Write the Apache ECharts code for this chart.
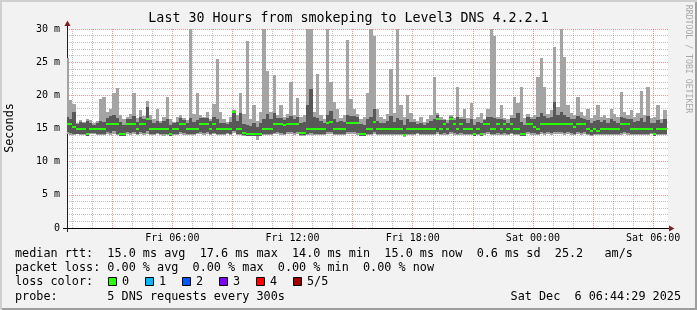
<!DOCTYPE html>
<html><head><meta charset="utf-8">
<script src="https://cdn.jsdelivr.net/npm/echarts@6/dist/echarts.min.js"></script>
<style>html,body{margin:0;padding:0;background:#f2f2f2;}#c{width:697px;height:310px;}</style>
</head><body><div id="c"></div>
<script>
// ---------- data ----------
const chartTitle = 'Last 30 Hours from smokeping to Level3 DNS 4.2.2.1';
const yAxisTitle = 'Seconds';
const xTickMinutes = [360, 720, 1080, 1440, 1800];           // minutes since Fri 00:00
const xTickLabels = ['Fri 06:00', 'Fri 12:00', 'Fri 18:00', 'Sat 00:00', 'Sat 06:00'];
const yTickLabels = ['0', '5 m', '10 m', '15 m', '20 m', '25 m', '30 m'];
const viewStartMin = 44 + 29 / 60;      // Fri 00:44:29
const viewSpanMin = 1800;               // 30 hours
const stepMin = 10;                     // one column = 10 minutes
const firstEndMin = 50;                 // first column ends Fri 00:50

// ping values per column (ms): smallest, 2nd, median, 4th, largest
const pMin = [
14.2,14.0,14.0,14.1,14.0,14.0,13.8,14.1,14.1,14.0,
14.0,14.0,14.1,14.0,14.2,14.0,13.9,13.9,14.1,14.0,
14.1,14.0,14.1,14.0,14.2,14.0,14.0,14.1,14.0,13.9,
14.0,13.8,14.0,14.0,14.1,14.0,14.0,14.0,14.0,14.1,
14.1,14.0,14.2,14.0,14.1,14.0,14.0,14.0,14.1,14.0,
14.3,14.0,14.0,13.9,13.8,13.8,13.8,13.3,13.8,14.0,
14.0,14.0,14.1,14.1,14.0,14.0,14.1,14.1,14.0,14.1,
13.9,13.9,14.0,14.0,14.0,14.0,14.0,14.0,14.1,14.1,
14.0,14.0,14.0,14.0,14.1,14.2,14.1,14.0,13.8,13.8,
14.0,14.0,14.1,14.0,14.0,14.0,14.0,14.0,14.0,14.0,
14.0,13.7,14.0,14.0,14.0,14.1,14.0,14.0,14.0,14.0,
14.0,14.1,14.0,14.0,14.0,14.1,14.0,14.0,14.0,14.0,
14.0,14.0,13.8,14.0,13.8,14.0,14.1,14.0,14.0,14.0,
14.0,14.0,14.0,14.1,14.0,14.0,13.8,13.8,14.1,14.0,
14.0,14.0,14.1,14.0,14.1,14.0,14.2,14.1,14.1,14.0,
14.1,14.0,14.0,14.1,14.0,14.1,14.0,13.9,14.0,14.0,
14.0,14.0,14.0,14.0,14.0,14.0,14.0,14.1,14.0,14.0,
14.0,14.0,14.0,14.0,14.0,14.1,13.8,14.0,14.0,14.0];
const p2 = [
14.4,14.3,14.1,14.2,14.1,14.2,13.9,14.3,14.3,14.2,
14.2,14.1,14.4,14.3,14.6,14.2,13.9,13.9,14.4,14.3,
14.5,14.2,14.4,14.3,14.6,14.2,14.1,14.3,14.2,14.1,
14.2,13.9,14.2,14.1,14.4,14.3,14.2,14.2,14.1,14.3,
14.4,14.3,14.4,14.2,14.3,14.2,14.1,14.2,14.3,14.1,
14.6,14.2,14.2,14.0,13.9,13.9,13.9,13.8,13.9,14.2,
14.2,14.2,14.3,14.4,14.3,14.2,14.4,14.4,14.3,14.4,
14.0,14.0,14.2,14.3,14.2,14.1,14.2,14.1,14.4,14.5,
14.2,14.2,14.1,14.2,14.4,14.5,14.4,14.3,13.9,13.9,
14.2,14.2,14.4,14.2,14.1,14.2,14.2,14.2,14.1,14.2,
14.2,13.8,14.2,14.1,14.2,14.3,14.1,14.2,14.2,14.1,
14.2,14.4,14.2,14.3,14.2,14.4,14.3,14.2,14.3,14.2,
14.2,14.1,13.9,14.2,13.9,14.3,14.4,14.2,14.2,14.3,
14.2,14.3,14.2,14.3,14.2,14.2,13.9,13.9,14.4,14.3,
14.3,14.2,14.4,14.3,14.4,14.3,14.5,14.4,14.4,14.3,
14.4,14.3,14.2,14.4,14.3,14.4,14.2,14.0,14.2,14.1,
14.2,14.1,14.2,14.2,14.1,14.2,14.3,14.4,14.3,14.2,
14.2,14.1,14.2,14.2,14.2,14.3,13.9,14.2,14.1,14.2];
const pMed = [
15.7,15.7,15.2,14.9,14.9,14.9,14.2,14.9,14.9,14.9,
14.9,14.9,15.7,15.7,15.7,15.7,14.2,14.2,15.7,15.7,
15.7,14.9,15.7,15.7,16.5,14.9,14.9,14.9,14.9,14.9,
14.9,14.2,14.9,14.9,15.7,15.7,14.9,14.9,14.9,14.9,
15.7,15.7,15.7,14.9,15.7,14.9,14.9,14.9,14.9,14.9,
17.5,14.9,14.9,14.3,14.2,14.2,14.2,14.2,14.2,14.9,
14.9,14.9,15.7,15.7,15.7,15.5,15.7,15.7,15.7,15.7,
14.3,14.3,14.9,14.9,14.9,14.9,14.9,14.9,15.9,16.0,
14.9,14.9,14.9,14.9,15.9,15.9,15.9,15.9,14.2,14.2,
14.9,14.9,16.0,14.9,14.9,14.9,14.9,14.9,14.9,14.9,
14.9,14.0,14.9,14.9,14.9,14.9,14.9,14.9,14.9,14.9,
14.9,16.5,14.9,15.7,14.9,16.5,15.7,14.9,15.7,14.9,
14.9,14.9,14.2,14.9,14.2,15.7,15.7,14.9,14.9,15.7,
14.9,15.7,14.9,15.7,14.9,14.9,14.2,14.2,15.7,15.7,
15.2,14.9,15.7,15.7,15.7,15.7,15.7,15.7,15.7,15.7,
15.7,15.7,15.3,15.7,15.7,15.7,14.9,14.6,14.9,14.6,
14.9,14.9,14.9,14.9,14.9,14.9,15.7,15.7,15.7,14.9,
14.9,14.9,14.9,14.9,14.9,14.9,14.2,14.9,14.9,14.9];
const p4 = [
16.8,16.5,17.5,15.7,16.0,15.8,16.2,15.8,15.6,15.9,
16.2,16.0,16.6,16.9,17.0,16.6,16.0,15.6,16.5,16.5,
16.9,16.0,16.7,16.5,18.2,16.3,15.9,16.2,15.8,16.2,
16.4,15.6,15.8,16.0,16.6,16.3,15.9,16.6,16.0,16.3,
16.6,16.6,16.6,16.1,16.8,16.4,15.9,15.9,15.7,16.0,
17.6,16.2,17.3,15.7,15.6,15.4,15.9,15.3,15.9,16.4,
17.2,16.4,17.3,16.6,16.6,16.3,16.6,16.9,16.5,16.8,
15.9,16.0,18.5,21.0,16.8,16.6,16.1,15.9,17.0,17.6,
16.4,16.0,16.1,16.0,17.1,16.9,16.9,16.7,15.7,15.6,
16.4,16.8,18.0,16.1,15.9,15.8,16.1,16.9,16.0,16.6,
16.3,15.5,16.4,16.0,16.0,15.7,15.9,15.6,15.9,16.2,
16.4,17.0,16.3,16.3,15.9,16.8,16.3,16.8,16.5,16.5,
15.9,16.4,15.5,16.0,15.9,16.3,16.7,16.8,16.6,16.5,
16.4,16.3,15.9,16.6,16.6,17.4,16.0,15.6,16.8,16.4,
16.4,16.8,17.3,16.9,16.6,16.8,19.0,17.0,17.5,17.0,
16.8,16.5,16.4,16.9,16.6,16.4,16.3,15.8,16.1,16.3,
16.0,16.3,15.9,16.5,16.2,15.9,16.8,16.6,16.5,16.4,
16.0,16.2,16.6,16.0,16.9,15.9,15.8,16.3,15.9,16.5];
const pMax = [
25.6,19.3,18.7,15.9,16.3,16.0,16.5,16.3,15.8,16.2,
19.5,19.8,17.5,18.0,20.4,21.1,17.0,16.4,16.8,17.2,
20.4,16.6,17.8,16.9,19.2,17.0,16.4,18.0,16.2,16.8,
19.8,16.5,16.0,16.7,17.0,16.6,16.3,31.0,17.2,20.4,
17.0,16.8,17.5,16.5,18.7,25.5,17.5,16.5,16.0,16.7,
17.8,17.0,20.4,17.2,28.2,16.5,18.5,16.2,17.5,31.0,
23.7,17.5,23.1,17.0,18.5,16.8,17.2,22.0,17.0,19.6,
16.8,17.0,31.0,31.0,17.5,23.2,17.0,16.5,31.0,22.0,
19.0,18.0,16.6,17.0,28.4,19.5,18.0,17.2,16.5,16.8,
20.3,31.0,29.0,18.0,16.8,16.5,17.2,24.0,17.3,31.0,
18.5,16.8,20.0,17.4,16.5,16.2,16.7,16.0,16.4,17.0,
22.8,17.4,16.8,16.5,16.3,17.0,16.6,21.3,16.8,18.0,
16.6,18.8,16.4,16.8,17.3,16.5,18.0,31.0,29.0,16.8,
18.5,16.6,16.4,17.0,19.8,18.8,21.3,16.6,17.2,16.8,
17.0,22.8,25.6,21.3,17.2,17.8,27.3,18.2,31.0,25.8,
18.5,17.3,17.0,19.8,17.5,16.9,18.0,16.6,17.0,18.5,
16.8,17.0,16.6,18.0,17.2,16.8,20.5,17.5,17.0,17.8,
16.8,17.3,20.6,17.0,21.3,16.6,16.8,18.5,16.5,17.8];

const legendMedian = 'median rtt:  15.0 ms avg  17.6 ms max  14.0 ms min  15.0 ms now  0.6 ms sd  25.2   am/s';
const legendLoss = 'packet loss: 0.00 % avg  0.00 % max  0.00 % min  0.00 % now';
const legendLossColor = 'loss color:';
const legendProbe = 'probe:       5 DNS requests every 300s';
const lossLabels = ['0', '1', '2', '3', '4', '5/5'];
const lossColors = ['#26ff00', '#00b8ff', '#0059ff', '#7e00ff', '#ff0000', '#a10000'];
const stampText = 'Sat Dec  6 06:44:29 2025';
const watermark = 'RRDTOOL / TOBI OETIKER';

// ---------- build ----------
const rows = pMax.map((_, i) => [firstEndMin + stepMin * i, pMin[i], p2[i], pMed[i], p4[i], pMax[i]]);
const hourMinor = [], hourMajor = [];
for (let m = 60; m <= 1800; m += 60) { (m % 180 === 0 ? hourMajor : hourMinor).push(m); }

const MONO = '"DejaVu Sans Mono", monospace';
const SMOKE_OUT = '#a4a4a4', SMOKE_IN = '#585858', MEDIAN = '#26ff00';
const GRID_MINOR = 'rgba(143,143,143,0.55)', GRID_MAJOR = 'rgba(222,79,79,0.6)';

function renderSmoke(params, api) {
  const tEnd = api.value(0);
  const cs = params.coordSys;
  const clip = { x: cs.x, y: cs.y, width: cs.width, height: cs.height };
  const xa = Math.round(api.coord([tEnd - stepMin, 0])[0]);
  const xb = Math.round(api.coord([tEnd, 0])[0]);
  const Y = v => api.coord([tEnd, v])[1];
  const mk = (y1, y2, fill) => {
    const top = Math.round(Math.min(y1, y2)), bot = Math.round(Math.max(y1, y2));
    const r = echarts.graphic.clipRectByRect({ x: xa, y: top, width: xb - xa, height: Math.max(bot - top, 1) }, clip);
    return r ? { type: 'rect', shape: r, style: { fill: fill } } : null;
  };
  const ym = Y(api.value(3));
  const kids = [
    mk(Y(api.value(1)), Y(api.value(5)), SMOKE_OUT),
    mk(Y(api.value(2)), Y(api.value(4)), SMOKE_IN),
    mk(ym - 1, ym + 1, MEDIAN)
  ].filter(Boolean);
  return { type: 'group', children: kids };
}

const txt = (text, x, y, size, opts) => Object.assign({
  type: 'text', x: x, y: y, z: 100, silent: true,
  style: Object.assign({ text: text, font: size + 'px ' + MONO, fill: '#000', align: 'left', verticalAlign: 'middle' }, (opts && opts.style) || {})
}, opts && opts.rotation !== undefined ? { rotation: opts.rotation } : {});

const graphics = [
  { type: 'rect', shape: { x: 0, y: 0, width: 697, height: 2 }, style: { fill: '#cfcfcf' }, z: 100 },
  { type: 'rect', shape: { x: 0, y: 0, width: 2, height: 310 }, style: { fill: '#cfcfcf' }, z: 100 },
  { type: 'rect', shape: { x: 2, y: 308, width: 695, height: 2 }, style: { fill: '#9e9e9e' }, z: 100 },
  { type: 'rect', shape: { x: 695, y: 2, width: 2, height: 308 }, style: { fill: '#9e9e9e' }, z: 100 },
  // axis extensions and arrows
  { type: 'line', shape: { x1: 67.5, y1: 29, x2: 67.5, y2: 25 }, style: { stroke: '#1f1f1f', lineWidth: 1 }, z: 100 },
  { type: 'line', shape: { x1: 67.5, y1: 228, x2: 67.5, y2: 232 }, style: { stroke: '#1f1f1f', lineWidth: 1 }, z: 100 },
  { type: 'line', shape: { x1: 63, y1: 228.5, x2: 67, y2: 228.5 }, style: { stroke: '#000', lineWidth: 1 }, z: 100 },
  { type: 'line', shape: { x1: 667, y1: 228.5, x2: 670, y2: 228.5 }, style: { stroke: '#000', lineWidth: 1 }, z: 100 },
  { type: 'polygon', shape: { points: [[64.5, 26], [70.5, 26], [67.5, 20.5]] }, style: { fill: '#801f1f' }, z: 100 },
  { type: 'polygon', shape: { points: [[669, 225.5], [669, 231.5], [674.5, 228.5]] }, style: { fill: '#801f1f' }, z: 100 },
  txt(chartTitle, 348.5, 19, 13.3, { style: { align: 'center' } }),
  txt(yAxisTitle, 10, 128, 11.8, { rotation: Math.PI / 2, style: { align: 'center' } }),
  txt(watermark, 688, 59, 8.2, { rotation: -Math.PI / 2, style: { align: 'center', fill: '#a8a8a8' } }),
  txt(legendMedian, 15, 253.5, 11.8),
  txt(legendLoss, 15, 268, 11.8),
  txt(legendLossColor, 15, 282, 11.8),
  txt(legendProbe, 15, 296.5, 11.8),
  txt(stampText, 681, 296.5, 11.8, { style: { align: 'right' } })
];
const boxX = [108, 145, 182, 219, 256, 293];
lossLabels.forEach((lab, k) => {
  graphics.push({ type: 'rect', z: 100, shape: { x: boxX[k] + 0.5, y: 277.5, width: 8, height: 8 }, style: { fill: lossColors[k], stroke: '#000', lineWidth: 1 } });
  graphics.push(txt(lab, boxX[k] + 14, 282, 11.8));
});

const chart = echarts.init(document.getElementById('c'), null, { renderer: 'canvas' });
chart.setOption({
  animation: false,
  backgroundColor: '#f2f2f2',
  grid: { left: 67, right: 29, top: 29, bottom: 82, show: true, backgroundColor: '#ffffff', borderWidth: 0 },
  xAxis: [
    { type: 'value', position: 'bottom', min: viewStartMin, max: viewStartMin + viewSpanMin,
      axisLine: { show: false }, axisLabel: { show: false },
      axisTick: { show: false, customValues: hourMinor },
      splitLine: { show: true, lineStyle: { color: GRID_MINOR, type: [1, 1], width: 1 } } },
    { type: 'value', position: 'bottom', min: viewStartMin, max: viewStartMin + viewSpanMin,
      axisLine: { show: true, onZero: false, lineStyle: { color: '#000', width: 1 } },
      axisTick: { show: false, customValues: hourMajor },
      axisLabel: { customValues: xTickMinutes, margin: 5, color: '#000', fontFamily: MONO, fontSize: 10,
        formatter: v => xTickLabels[xTickMinutes.indexOf(Math.round(v))] || '' },
      splitLine: { show: true, lineStyle: { color: GRID_MAJOR, type: [1, 1], width: 1 } } }
  ],
  yAxis: {
    type: 'value', min: 0, max: 30, interval: 5,
    axisLine: { show: true, lineStyle: { color: '#1f1f1f', width: 1 } },
    axisTick: { show: false },
    axisLabel: { margin: 7, color: '#000', fontFamily: MONO, fontSize: 10,
      formatter: v => yTickLabels[Math.round(v / 5)] },
    splitLine: { show: true, lineStyle: { color: GRID_MAJOR, type: [1, 1], width: 1 } },
    minorTick: { show: false, splitNumber: 5 },
    minorSplitLine: { show: true, lineStyle: { color: GRID_MINOR, type: [1, 1], width: 1 } }
  },
  series: [{
    type: 'custom', xAxisIndex: 1, yAxisIndex: 0, clip: true, silent: true,
    renderItem: renderSmoke,
    encode: { x: 0, y: [1, 2, 3, 4, 5] },
    data: rows
  }],
  graphic: graphics
});
</script></body></html>
